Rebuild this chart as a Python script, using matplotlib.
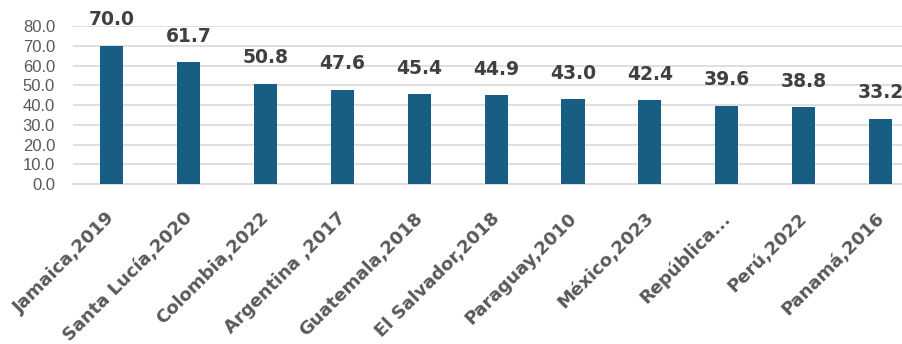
import matplotlib.pyplot as plt
import matplotlib.transforms as mtransforms
import numpy as np

plt.rcParams['font.family'] = ['DejaVu Sans']

countries = ["Jamaica,2019", "Santa Lucía,2020", "Colombia,2022", "Argentina ,2017",
             "Guatemala,2018", "El Salvador,2018", "Paraguay,2010", "México,2023",
             "República...", "Perú,2022", "Panamá,2016"]
values = [70.0, 61.7, 50.8, 47.6, 45.4, 44.9, 43.0, 42.4, 39.6, 38.8, 33.2]
yticks = [0, 10, 20, 30, 40, 50, 60, 70, 80]

bar_color = "#175E82"
text_color = "#595959"

fig = plt.figure(figsize=(9.02, 3.44), dpi=100)
ax = fig.add_axes([0.081, 0.465, 0.938, 0.459])

x = np.arange(len(countries))
ax.bar(x, values, width=0.3, color=bar_color, zorder=3)

# value labels above each bar
for xi, v in zip(x, values):
    ax.annotate(f"{v:.1f}", (xi, v), xytext=(0, 12), textcoords="offset points",
                ha="center", va="bottom", fontsize=13.5, fontweight="bold",
                color="#404040", annotation_clip=False)

ax.set_xlim(-0.5, len(countries) - 0.5)
ax.set_ylim(0, 80)
ax.set_yticks(yticks)
ax.set_yticklabels([f"{t:.1f}" for t in yticks], fontsize=12, color=text_color,
                   family="Liberation Sans")
ax.set_xticks(x)
ax.set_xticklabels(countries, rotation=45, ha="right", rotation_mode="anchor",
                   fontsize=13, fontweight="bold", color=text_color)
ax.tick_params(axis="both", length=0)
ax.tick_params(axis="y", pad=13)
ax.tick_params(axis="x", pad=18)

# nudge the rotated category labels a little to the left
shift = mtransforms.ScaledTranslation(-4 / 72, 0, fig.dpi_scale_trans)
for lbl in ax.get_xticklabels():
    lbl.set_transform(lbl.get_transform() + shift)

ax.grid(axis="y", color="#d9d9d9", linewidth=1.2, zorder=0)
for side in ["top", "right", "left"]:
    ax.spines[side].set_visible(False)
ax.spines["bottom"].set_color("#d9d9d9")
ax.spines["bottom"].set_linewidth(1.2)

fig.savefig("out.png", dpi=100)
